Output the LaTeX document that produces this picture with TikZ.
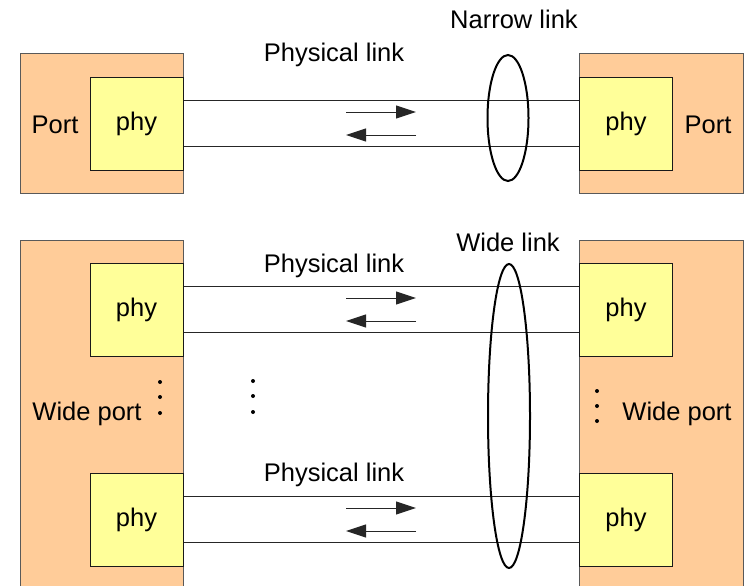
\documentclass[tikz,border=0pt]{standalone}
\usepackage{fontspec}
\setmainfont{Liberation Sans}
\usetikzlibrary{arrows.meta,shapes.geometric,calc}
\definecolor{portfill}{HTML}{FFCC99}
\definecolor{phyfill}{HTML}{FFFF99}
\begin{document}
\begin{tikzpicture}[x=1pt,y=-1pt,
  every node/.style={font=\fontsize{25.5}{30}\selectfont},
  portbox/.style={draw=black!65, fill=portfill, line width=1pt, inner sep=0pt},
  phybox/.style={draw=black!90, fill=phyfill, line width=1pt, inner sep=0pt, minimum width=93pt, minimum height=93pt},
  linkline/.style={draw=black!85, line width=1pt},
  dirarrow/.style={draw=black!85, line width=1pt, -{Triangle[length=20pt,width=13pt]}},
  linkring/.style={draw=black, line width=2pt, ellipse, inner sep=0pt},
  lbl/.style={inner sep=0pt},
  dot/.style={fill=black}
]
\clip (0,0) rectangle (744,586);
\fill[white] (0,0) rectangle (744,586);

% ---------- narrow link ----------
\node[portbox, minimum width=163pt, minimum height=139pt] (portL) at (101.5,123.5) {};
\node[portbox, minimum width=164pt, minimum height=139pt] (portR) at (661,123.5) {};
\node[phybox] (phyL) at (136.5,123.5) {phy};
\node[phybox] (phyR) at (626,123.5) {phy};
\node[lbl] (portLt) at (55,125) {Port};
\node[lbl] (portRt) at (708,125) {Port};
\draw[linkline] ($(phyL.east)+(0,-23)$) -- ($(phyR.west)+(0,-23)$);
\draw[linkline] ($(phyL.east)+(0,23)$) -- ($(phyR.west)+(0,23)$);
\node[lbl] (plA) at (334,55) {Physical link};
\coordinate (a1s) at (346,112); \coordinate (a1e) at (416,112);
\coordinate (a2s) at (416,135); \coordinate (a2e) at (346,135);
\draw[dirarrow] (a1s) -- (a1e);
\draw[dirarrow] (a2s) -- (a2e);
\node[linkring, minimum width=41pt, minimum height=126pt] (ringN) at (508,118) {};
\node[lbl] (nlt) at (514,19) {Narrow link};

% ---------- wide link ----------
\node[portbox, minimum width=163pt, minimum height=370pt] (wportL) at (101.5,425) {};
\node[portbox, minimum width=164pt, minimum height=370pt] (wportR) at (661,425) {};
\node[phybox] (phyL1) at (136.5,309.5) {phy};
\node[phybox] (phyR1) at (626,309.5) {phy};
\node[phybox] (phyL2) at (136.5,519.5) {phy};
\node[phybox] (phyR2) at (626,519.5) {phy};
\node[lbl] (wpLt) at (87,414) {Wide port};
\node[lbl] (wpRt) at (677,414) {Wide port};

\draw[linkline] ($(phyL1.east)+(0,-23)$) -- ($(phyR1.west)+(0,-23)$);
\draw[linkline] ($(phyL1.east)+(0,23)$) -- ($(phyR1.west)+(0,23)$);
\draw[linkline] ($(phyL2.east)+(0,-23)$) -- ($(phyR2.west)+(0,-23)$);
\draw[linkline] ($(phyL2.east)+(0,23)$) -- ($(phyR2.west)+(0,23)$);
\node[lbl] (plB) at (334,266) {Physical link};
\node[lbl] (plC) at (334,475) {Physical link};
\coordinate (b1s) at (346,298); \coordinate (b1e) at (416,298);
\coordinate (b2s) at (416,321); \coordinate (b2e) at (346,321);
\draw[dirarrow] (b1s) -- (b1e);
\draw[dirarrow] (b2s) -- (b2e);
\coordinate (c1s) at (346,508); \coordinate (c1e) at (416,508);
\coordinate (c2s) at (416,531); \coordinate (c2e) at (346,531);
\draw[dirarrow] (c1s) -- (c1e);
\draw[dirarrow] (c2s) -- (c2e);
\node[linkring, minimum width=42pt, minimum height=304pt] (ringW) at (509,416) {};
\node[lbl] (wlt) at (508,242) {Wide link};

% dots
\foreach \y in {382,397,413} \fill[dot] (160,\y) circle (2pt);
\foreach \y in {381,396,412} \fill[dot] (253,\y) circle (2pt);
\foreach \y in {391,406,421} \fill[dot] (597,\y) circle (2pt);
\end{tikzpicture}
\end{document}
